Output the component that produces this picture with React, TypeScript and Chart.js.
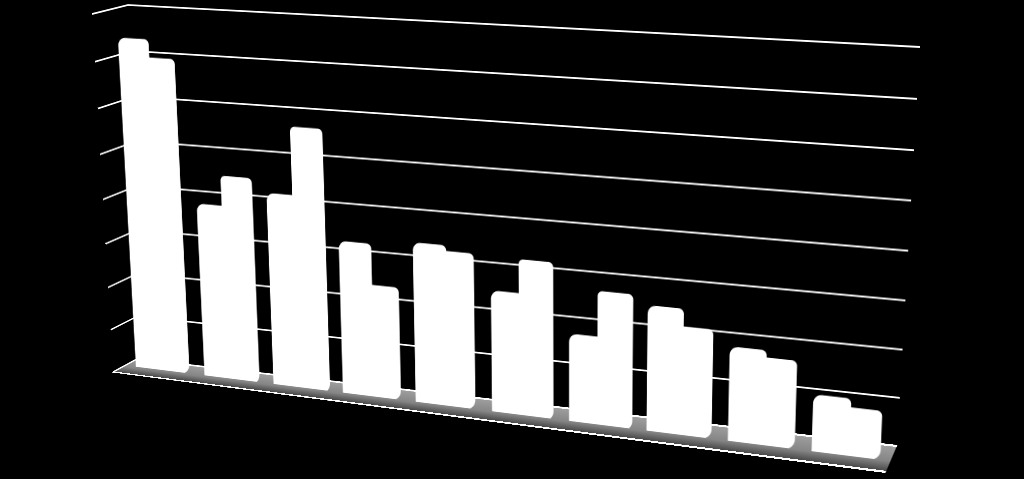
import React, { useEffect, useRef } from 'react';
import { Chart, registerables } from 'chart.js';

Chart.register(...registerables);

const categories = ['1', '2', '3', '4', '5', '6', '7', '8', '9', '10'];
const seriesA = [7.3, 3.85, 4.22, 3.29, 3.41, 2.59, 1.85, 2.58, 1.91, 1.12];
const seriesB = [6.95, 4.47, 5.65, 2.44, 3.33, 3.27, 2.77, 2.25, 1.8, 0.98];
const axisMax = 8;

type Quad = number[][]; // top-left, top-right, bottom-right, bottom-left

const wallQuad: Quad = [[128, 5], [920, 47], [897, 446], [137, 359]];
const sideQuad: Quad = [[92, 14], [128, 5], [146, 354], [113, 372]];
const floorQuad: Quad = [[137, 359], [897, 446], [886, 472], [113, 372]];
const barQuad: Quad = [[110, 7], [907, 51], [890, 461], [130, 366]];

const W = 1024;
const H = 479;

// rect -> quad as a css matrix3d, so every layer keeps the library's own scales
function planeMatrix(area: any, q: Quad) {
  const [p0, p1, p2, p3] = q;
  const dx1 = p1[0] - p2[0];
  const dx2 = p3[0] - p2[0];
  const sx = p0[0] - p1[0] + p2[0] - p3[0];
  const dy1 = p1[1] - p2[1];
  const dy2 = p3[1] - p2[1];
  const sy = p0[1] - p1[1] + p2[1] - p3[1];
  const den = dx1 * dy2 - dx2 * dy1;
  const g = (sx * dy2 - dx2 * sy) / den;
  const h = (dx1 * sy - sx * dy1) / den;
  const a = p1[0] - p0[0] + g * p1[0];
  const b = p3[0] - p0[0] + h * p3[0];
  const d = p1[1] - p0[1] + g * p1[1];
  const e = p3[1] - p0[1] + h * p3[1];
  const l = area.left;
  const t = area.top;
  const w = area.right - area.left;
  const ht = area.bottom - area.top;
  const m = [
    a / w, d / w, 0, g / w,
    b / ht, e / ht, 0, h / ht,
    0, 0, 1, 0,
    p0[0] - (a * l) / w - (b * t) / ht,
    p0[1] - (d * l) / w - (e * t) / ht,
    0,
    1 - (g * l) / w - (h * t) / ht,
  ];
  return `matrix3d(${m.join(',')})`;
}

const floorShade = {
  id: 'floorShade',
  beforeDraw(chart: any) {
    const { ctx, chartArea: c } = chart;
    const grad = ctx.createLinearGradient(0, c.top, 0, c.bottom);
    grad.addColorStop(0, '#a0a0a0');
    grad.addColorStop(0.6, '#868686');
    grad.addColorStop(1, '#444444');
    ctx.save();
    ctx.fillStyle = grad;
    ctx.fillRect(c.left, c.top, c.right - c.left, c.bottom - c.top);
    ctx.restore();
  },
};

function baseOptions(max: number, showGrid: boolean, gridWidth: number): any {
  return {
    responsive: false,
    animation: false,
    devicePixelRatio: 2,
    layout: { padding: 24 },
    plugins: { legend: { display: false }, tooltip: { enabled: false } },
    scales: {
      x: { display: false },
      y: {
        min: 0,
        max,
        display: showGrid,
        ticks: { display: false, stepSize: 1 },
        border: { display: false },
        grid: { color: '#ffffff', lineWidth: gridWidth, drawTicks: false },
      },
    },
  };
}

function Layer({ quad, type, datasets, max, showGrid, gridWidth = 2, plugins }: any) {
  const ref = useRef<HTMLCanvasElement>(null);

  useEffect(() => {
    if (!ref.current) return;
    const chart = new Chart(ref.current, {
      type,
      data: { labels: categories, datasets },
      options: baseOptions(max, showGrid, gridWidth),
      plugins: plugins || [],
    });
    ref.current.style.transform = planeMatrix(chart.chartArea, quad);
    return () => chart.destroy();
  }, []);

  return (
    <canvas
      ref={ref}
      width={W}
      height={H}
      style={{ position: 'absolute', left: 0, top: 0, transformOrigin: '0 0' }}
    />
  );
}

const barStyle = {
  backgroundColor: '#ffffff',
  borderSkipped: false,
  categoryPercentage: 0.76,
  barPercentage: 1,
};

export default function App() {
  const bars = [
    {
      ...barStyle,
      data: seriesA,
      // the taller bar of a pair shows its side too, so it reads wider
      inflateAmount: (c: any) => (seriesA[c.dataIndex] > seriesB[c.dataIndex] ? 3 : 1),
      borderRadius: (c: any) => ({
        topLeft: 10,
        topRight: seriesA[c.dataIndex] > seriesB[c.dataIndex] ? 6 : 0,
        bottomLeft: 2,
        bottomRight: 0,
      }),
    },
    {
      ...barStyle,
      data: seriesB,
      inflateAmount: (c: any) => (seriesB[c.dataIndex] > seriesA[c.dataIndex] ? 3 : 1),
      borderRadius: (c: any) => ({
        topLeft: seriesB[c.dataIndex] > seriesA[c.dataIndex] ? 6 : 0,
        topRight: 6,
        bottomLeft: 0,
        bottomRight: 12,
      }),
    },
  ];

  return (
    <div style={{ position: 'fixed', left: 0, top: 0, width: W, height: H, background: '#000', overflow: 'hidden' }}>
      <Layer quad={floorQuad} type="line" datasets={[]} max={1} showGrid gridWidth={34} plugins={[floorShade]} />
      <Layer quad={wallQuad} type="line" datasets={[]} max={axisMax} showGrid />
      <Layer quad={sideQuad} type="line" datasets={[]} max={axisMax} showGrid />
      <Layer quad={barQuad} type="bar" datasets={bars} max={axisMax} showGrid={false} />
    </div>
  );
}
